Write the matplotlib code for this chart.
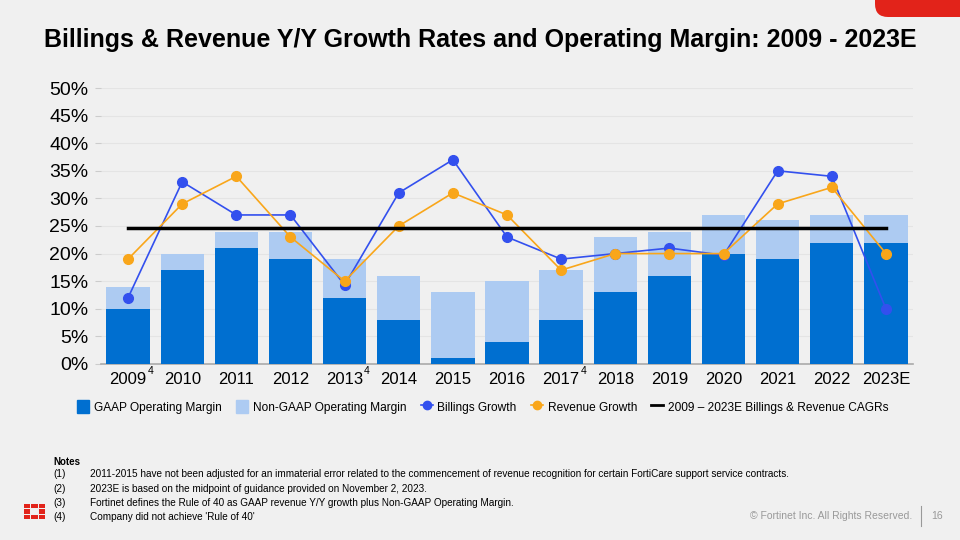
import matplotlib.pyplot as plt
import numpy as np
from matplotlib.patches import Patch, FancyBboxPatch, Rectangle
from matplotlib.lines import Line2D

plt.rcParams['font.family'] = ['Liberation Sans', 'DejaVu Sans']

years = ['2009', '2010', '2011', '2012', '2013', '2014', '2015', '2016',
         '2017', '2018', '2019', '2020', '2021', '2022', '2023E']
gaap = [10, 17, 21, 19, 12, 8, 1, 4, 8, 13, 16, 20, 19, 22, 22]
non_gaap = [14, 20, 24, 24, 19, 16, 13, 15, 17, 23, 24, 27, 26, 27, 27]
billings = [12, 33, 27, 27, 14.3, 31, 37, 23, 19, 20, 21, 19.7, 35, 34, 10]
revenue = [19, 29, 34, 23, 15, 25, 31, 27, 17, 20, 20, 20, 29, 32, 20]
cagr = 24.6
footnote4 = ['2009', '2013', '2017']

notes = [
    ('(1)', '2011-2015 have not been adjusted for an immaterial error related to the commencement of revenue recognition for certain FortiCare support service contracts.'),
    ('(2)', '2023E is based on the midpoint of guidance provided on November 2, 2023.'),
    ('(3)', 'Fortinet defines the Rule of 40 as GAAP revenue Y/Y growth plus Non-GAAP Operating Margin.'),
    ('(4)', "Company did not achieve 'Rule of 40'"),
]

c_gaap = '#006fd0'
c_ng = '#adcbf2'
c_bill = '#3350ee'
c_rev = '#f9a61a'
red = '#e2231a'
bg = '#f0f0f0'

fig = plt.figure(figsize=(9.6, 5.4), dpi=100, facecolor=bg)
ax = fig.add_axes([101 / 960, 0.326, 812 / 960, 0.511], facecolor=bg)

x = np.arange(len(years))
ax.bar(x, non_gaap, width=0.8, color=c_ng, zorder=2)
ax.bar(x, gaap, width=0.8, color=c_gaap, zorder=3)
ax.plot(x, billings, color=c_bill, lw=1.2, marker='o', ms=7, zorder=5)
ax.plot(x, revenue, color=c_rev, lw=1.2, marker='o', ms=7, zorder=6)
ax.plot([x[0], x[-1]], [cagr, cagr], color='black', lw=2.5, zorder=7)

ax.set_xlim(-0.5, len(years) - 0.5)
ax.set_ylim(0, 50)
ax.set_yticks(np.arange(0, 51, 5))
ax.set_yticklabels([f'{v}%' for v in range(0, 51, 5)], fontsize=14)
ax.set_xticks(x)
ax.set_xticklabels(years, fontsize=12)
ax.tick_params(axis='y', length=4, color='#cccccc', pad=5)
ax.tick_params(axis='x', length=0, pad=6)
ax.grid(axis='y', color='#e4e4e4', lw=0.8, zorder=0)
for s in ['top', 'right', 'left']:
    ax.spines[s].set_visible(False)
ax.spines['bottom'].set_color('#aaaaaa')
ax.spines['bottom'].set_linewidth(1.2)

for i, y in enumerate(years):
    if y in footnote4:
        ax.annotate('4', xy=(i, 0), xycoords=('data', 'axes fraction'),
                    xytext=(14, -7), textcoords='offset points', fontsize=7.5)

handles = [
    Patch(color=c_gaap), Patch(color=c_ng),
    Line2D([], [], color=c_bill, marker='o', ms=6, lw=1.2),
    Line2D([], [], color=c_rev, marker='o', ms=6, lw=1.2),
    Line2D([], [], color='black', lw=2),
]
labels = ['GAAP Operating Margin', 'Non-GAAP Operating Margin', 'Billings Growth',
          'Revenue Growth', '2009 \u2013 2023E Billings & Revenue CAGRs']
fig.legend(handles, labels, loc='center', bbox_to_anchor=(0.503, 0.247), ncol=5,
           frameon=False, fontsize=8.6, handlelength=1.0, handleheight=1.4,
           columnspacing=1.2, handletextpad=0.4)

fig.text(0.5, 0.925, 'Billings & Revenue Y/Y Growth Rates and Operating Margin: 2009 - 2023E',
         ha='center', va='center', fontsize=18, fontweight='bold')

fig.text(53 / 960, 1 - 462 / 540, 'Notes', fontsize=7, fontweight='bold', va='center')
for k, (n, t) in enumerate(notes):
    yy = 1 - (474 + k * 14.5) / 540
    fig.text(53 / 960, yy, n, fontsize=7.2, va='center')
    fig.text(90 / 960, yy, t, fontsize=7.2, va='center')

fig.text(912 / 960, 1 - 516 / 540, '\u00a9 Fortinet Inc. All Rights Reserved.',
         fontsize=7.5, color='#999999', ha='right', va='center')
fig.add_artist(Line2D([921 / 960, 921 / 960], [1 - 506 / 540, 1 - 526 / 540],
                      color='#999999', lw=0.8))
fig.text(937 / 960, 1 - 516 / 540, '16', fontsize=7.5, color='#999999', ha='center', va='center')

# red corner tab (inches, so the corner stays round); runs off the right edge
fig.add_artist(FancyBboxPatch((8.75, (540 - 17) / 100), 2.0, 1.0,
                              boxstyle='round,pad=0,rounding_size=0.13',
                              transform=fig.dpi_scale_trans, color=red, lw=0))

# logo: 3x3 blocks without centre
col_x = [24, 31, 39]
col_w = [6, 7, 6]
row_y = [504, 509, 515]
row_h = [4, 5, 4]
for r in range(3):
    for c in range(3):
        if r == 1 and c == 1:
            continue
        fig.add_artist(Rectangle((col_x[c] / 960, 1 - (row_y[r] + row_h[r]) / 540),
                                 col_w[c] / 960, row_h[r] / 540,
                                 transform=fig.transFigure, color=red, lw=0))

fig.savefig('out.png', dpi=100, facecolor=bg)
